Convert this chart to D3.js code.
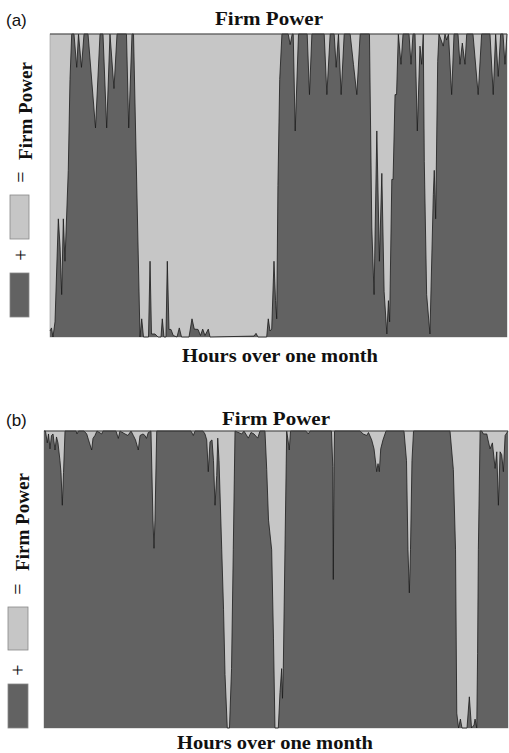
<!DOCTYPE html>
<html>
<head>
<meta charset="utf-8">
<script src="https://cdn.jsdelivr.net/npm/d3@7"></script>
<style>
  body { margin: 0; background: #fff; }
  text { fill: #111; }
</style>
</head>
<body>
<svg id="chart" width="509" height="753"></svg>
<script>

// hours over the month (0..720) and share of the firm power covered by the dark series
const hoursA = [0, 2.4, 4.7, 7.9, 13.1, 15.8, 18.4, 21.0, 23.6, 28.8, 31.5, 34.2, 37.8, 42.1, 44.9, 49.6, 53.6,
  59.9, 71.7, 78.8, 83.5, 89.3, 94.5, 100.8, 105.6, 120.5, 124.0, 129.2, 131.6, 141.8, 144.5, 147.3, 155.2,
  157.6, 159.9, 165.4, 170.2, 174.9, 176.9, 179.6, 182.7, 184.8, 187.5, 190.6, 194.2, 200.1, 203.7, 207.2,
  219.0, 223.7, 227.3, 233.2, 237.1, 240.6, 244.2, 249.4, 252.1, 321.4, 324.6, 327.7, 341.4, 343.9, 346.6,
  349.3, 352.9, 355.3, 357.2, 359.1, 361.9, 365.4, 375.3, 378.4, 381.6, 383.2, 386.3, 391.5, 405.2, 408.8,
  412.6, 432.0, 436.2, 441.4, 447.7, 450.9, 454.5, 458.7, 463.5, 472.9, 478.1, 483.4, 488.6, 503.3, 507.0,
  510.6, 514.9, 519.0, 522.8, 526.4, 530.7, 533.2, 535.1, 538.5, 540.5, 543.6, 546.0, 548.8, 553.0, 556.2,
  565.6, 568.8, 571.9, 575.1, 578.7, 582.9, 585.6, 588.1, 589.7, 593.4, 598.6, 603.9, 605.4, 607.6, 610.8,
  612.8, 619.6, 622.3, 624.9, 627.8, 632.8, 636.5, 642.8, 645.9, 649.6, 653.8, 656.5, 666.4, 674.6, 680.0,
  693.2, 698.3, 702.1, 706.2, 710.0, 713.7, 716.8, 720];
const firmA = [0.02, 0.03, 0, 0.05, 0.39, 0.30, 0.14, 0.39, 0.25, 0.55, 0.85, 1, 1, 0.89, 1, 0.89, 1,
  1, 0.69, 1, 1, 0.69, 1, 0.82, 1, 1, 0.69, 1, 1, 0, 0.06, 0, 0,
  0.25, 0.01, 0.01, 0, 0, 0.06, 0, 0, 0.25, 0.025, 0.025, 0.005, 0, 0.03, 0,
  0, 0.06, 0.026, 0.025, 0.005, 0.026, 0.005, 0.026, 0, 0.003, 0.012, 0, 0, 0.06, 0.02,
  0.026, 0.25, 0.12, 0.06, 0.5, 0.85, 1, 1, 0.965, 1, 1, 0.68, 1, 1, 0.80,
  1, 1, 0.80, 1, 1, 0.89, 1, 0.80, 1, 1, 0.90, 0.80, 1, 1, 0.36,
  0.14, 0.68, 0.25, 0.54, 0.15, 0.01, 0.12, 0.05, 0.52, 0.52, 0.80, 0.80, 1, 0.90, 1,
  1, 0.90, 1, 1, 0.68, 0.96, 0.90, 1, 0.58, 0.14, 0.01, 0.47, 0.55, 0.39, 0.91,
  1, 0.96, 1, 0.98, 1, 0.80, 1, 1, 0.90, 0.97, 0.90, 1, 1, 0.80, 1,
  1, 0.80, 1, 0.86, 1, 1, 0.90, 1];

const hoursB = [0, 2.3, 5.1, 7.0, 9.3, 11.6, 14.0, 17.1, 19.4, 21.7, 24.8, 26.4, 28.4, 30.3, 32.6, 49.7,
  51.2, 53.5, 62.1, 66.3, 69.1, 74.0, 76.0, 79.1, 82.2, 89.5, 91.5, 111.7, 115.3, 117.9, 125.7, 130.3,
  135.0, 138.6, 142.0, 146.3, 149.0, 153.6, 156.7, 159.0, 161.8, 166.0, 169.1, 170.7, 172.2, 174.9, 228.1,
  231.7, 234.3, 246.7, 249.8, 252.5, 254.9, 257.6, 260.7, 263.0, 265.4, 268.0, 269.6, 271.6, 275.8, 278.6,
  280.9, 284.4, 287.8, 291.0, 293.7, 296.4, 306.8, 310.3, 317.0, 321.2, 325.9, 331.6, 335.2, 342.9, 345.6,
  348.4, 353.3, 356.1, 358.4, 363.6, 366.2, 368.8, 370.1, 371.3, 373.9, 376.6, 378.6, 380.6, 382.5, 406.5,
  410.1, 412.8, 446.1, 448.1, 448.9, 450.0, 450.8, 490.3, 495.4, 500.7, 503.5, 508.5, 512.1, 516.3, 518.3,
  520.3, 522.5, 526.0, 530.7, 558.6, 562.5, 564.8, 566.9, 568.7, 571.0, 573.4, 630.0, 635.2, 638.6, 640.5,
  643.3, 646.1, 648.6, 656.4, 660.0, 663.4, 667.3, 668.9, 671.5, 672.8, 674.0, 676.7, 679.3, 681.8, 687.1,
  689.0, 692.2, 695.8, 700.0, 702.6, 705.1, 707.7, 710.3, 712.8, 715.5, 720];
const firmB = [1, 1, 0.96, 0.99, 0.94, 0.985, 0.99, 0.936, 0.98, 0.96, 0.90, 0.86, 0.75, 0.86, 1, 1,
  0.99, 1, 1, 0.99, 0.97, 0.936, 0.975, 0.985, 1, 0.99, 1, 1, 0.975, 1, 0.99, 0.985,
  1, 0.985, 0.97, 0.936, 0.985, 0.99, 0.985, 0.975, 0.995, 1, 0.7, 0.605, 0.7, 1, 1,
  0.985, 1, 1, 0.99, 0.97, 0.863, 0.964, 0.97, 0.9, 0.75, 0.85, 0.976, 0.9, 0.6, 0.4,
  0.18, 0, 0, 0.2, 0.6, 1, 0.99, 1, 0.976, 0.995, 0.99, 0.976, 1, 1, 0.87,
  0.7, 0.6, 0.3, 0, 0, 0.12, 0.2, 0.1, 0.2, 0.6, 1, 0.97, 0.936, 1, 1,
  0.99, 1, 1, 0.88, 0.5, 0.88, 1, 1, 0.99, 0.985, 0.995, 0.97, 0.94, 0.863, 0.89,
  0.863, 0.94, 0.97, 1, 1, 0.9, 0.6, 0.455, 0.6, 0.9, 1, 1, 0.87, 0.6, 0.05,
  0, 0.03, 0, 0, 0.105, 0, 0.01, 0.03, 0, 0.25, 0.6, 1, 1, 0.99, 0.99,
  0.97, 0.94, 0.96, 0.874, 0.93, 0.75, 0.93, 0.92, 0.863, 0.985, 1];

const panelTags = ["(a)", "(b)"];
const panelTitle = "Firm Power";
const xLabel = "Hours over one month";
const legendLabel = "Firm Power";

const dark = "#626262";
const light = "#c6c6c6";
const serif = "'Liberation Serif', 'Times New Roman', serif";

const svg = d3.select("#chart");

const panels = [
  { tag: panelTags[0], hours: hoursA, firm: firmA,
    left: 50, right: 507, top: 34, bottom: 337,
    tagY: 26, titleX: 269, titleY: 25, labelX: 280, labelY: 362,
    legX: 32, legY: 111, eqY: 177, lightBox: [10, 195, 19, 44], plusY: 255, darkBox: [10, 273, 19, 44] },
  { tag: panelTags[1], hours: hoursB, firm: firmB,
    left: 44, right: 508, top: 431, bottom: 728,
    tagY: 426, titleX: 276, titleY: 425, labelX: 275, labelY: 749,
    legX: 29, legY: 522, eqY: 589, lightBox: [8, 607, 20, 43], plusY: 670, darkBox: [8, 684, 20, 44] }
];

panels.forEach(drawPanel);

function drawPanel(p) {
  const x = d3.scaleLinear().domain([0, 720]).range([p.left, p.right]);
  const y = d3.scaleLinear().domain([0, 1]).range([p.bottom, p.top]);
  const g = svg.append("g");

  // light background = firm power level
  g.append("rect")
    .attr("x", x(0)).attr("y", y(1))
    .attr("width", x(720) - x(0)).attr("height", y(0) - y(1))
    .attr("fill", light).attr("stroke", "#999").attr("stroke-width", 0.6);

  const area = d3.area()
    .x((d, i) => x(p.hours[i]))
    .y0(y(0))
    .y1(d => y(d));

  const line = d3.line()
    .x((d, i) => x(p.hours[i]))
    .y(d => y(d));

  g.append("path")
    .datum(p.firm)
    .attr("d", area)
    .attr("fill", dark);

  g.append("path")
    .datum(p.firm)
    .attr("d", line)
    .attr("fill", "none")
    .attr("stroke", "#1a1a1a")
    .attr("stroke-width", 0.8)
    .attr("stroke-linejoin", "round");

  // top border
  g.append("line")
    .attr("x1", x(0)).attr("x2", x(720))
    .attr("y1", y(1)).attr("y2", y(1))
    .attr("stroke", "#444").attr("stroke-width", 1.2);

  g.append("text")
    .attr("x", 6).attr("y", p.tagY)
    .attr("font-family", "'Liberation Sans', Arial, sans-serif")
    .attr("font-size", 17)
    .text(p.tag);

  g.append("text")
    .attr("x", p.titleX).attr("y", p.titleY)
    .attr("text-anchor", "middle")
    .attr("font-family", serif).attr("font-weight", "bold")
    .attr("font-size", 19)
    .attr("textLength", 108).attr("lengthAdjust", "spacingAndGlyphs")
    .text(panelTitle);

  g.append("text")
    .attr("x", p.labelX).attr("y", p.labelY)
    .attr("text-anchor", "middle")
    .attr("font-family", serif).attr("font-weight", "bold")
    .attr("font-size", 19)
    .attr("textLength", 196).attr("lengthAdjust", "spacingAndGlyphs")
    .text(xLabel);

  // legend on the left, rotated
  g.append("text")
    .attr("transform", `translate(${p.legX},${p.legY}) rotate(-90)`)
    .attr("text-anchor", "middle")
    .attr("font-family", serif).attr("font-weight", "bold")
    .attr("font-size", 19)
    .attr("textLength", 98).attr("lengthAdjust", "spacingAndGlyphs")
    .text(legendLabel);

  g.append("text")
    .attr("transform", `translate(${p.legX - 4},${p.eqY}) rotate(-90)`)
    .attr("text-anchor", "middle")
    .attr("font-family", serif)
    .attr("font-size", 20)
    .text("=");

  g.append("text")
    .attr("transform", `translate(${p.legX - 4},${p.plusY}) rotate(-90)`)
    .attr("text-anchor", "middle")
    .attr("font-family", serif)
    .attr("font-size", 20)
    .text("+");

  g.append("rect")
    .attr("x", p.lightBox[0]).attr("y", p.lightBox[1])
    .attr("width", p.lightBox[2]).attr("height", p.lightBox[3])
    .attr("fill", light).attr("stroke", "#888").attr("stroke-width", 0.8);

  g.append("rect")
    .attr("x", p.darkBox[0]).attr("y", p.darkBox[1])
    .attr("width", p.darkBox[2]).attr("height", p.darkBox[3])
    .attr("fill", dark).attr("stroke", "#888").attr("stroke-width", 0.8);
}
</script>
</body>
</html>
